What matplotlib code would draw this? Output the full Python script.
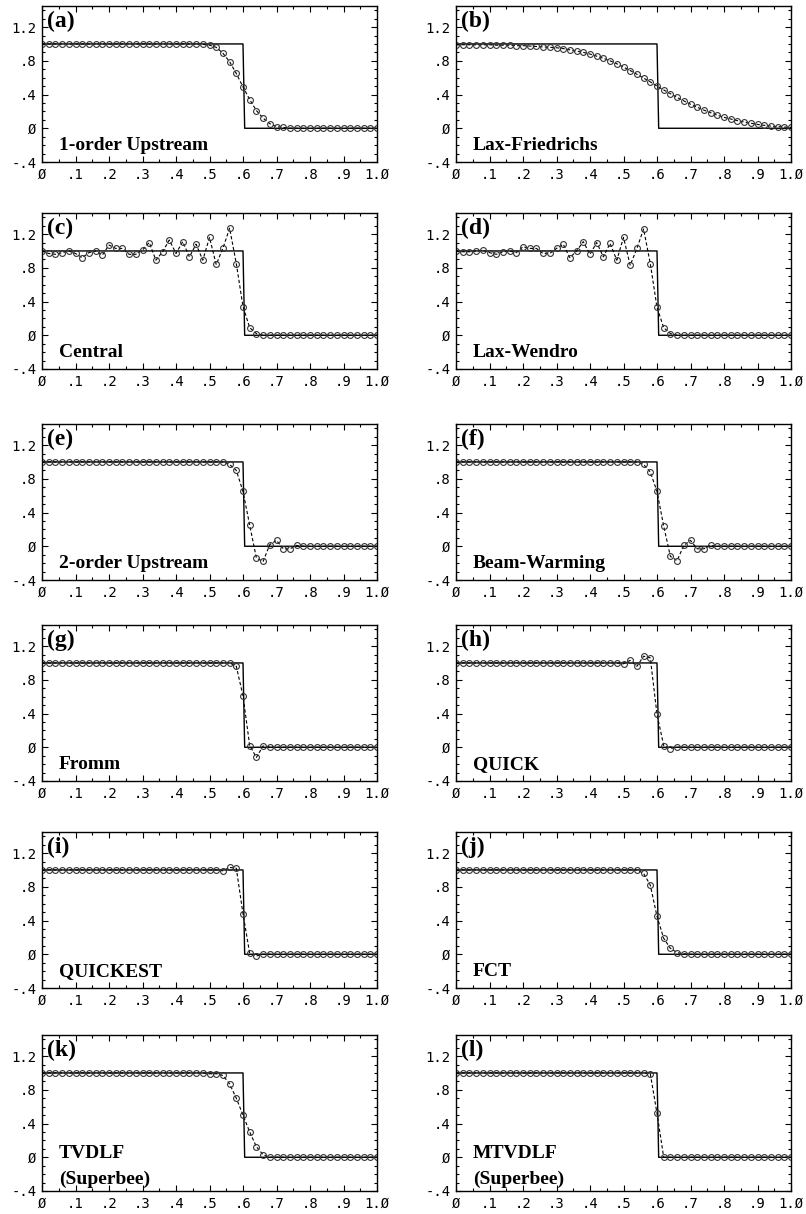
import numpy as np
import matplotlib
matplotlib.use('Agg')
import matplotlib.pyplot as plt
from matplotlib.ticker import MultipleLocator, FixedLocator, FixedFormatter

# grid points (51 cells, dx = 0.02)
x = np.round(np.arange(51) * 0.02, 2)

# exact solution: step at x = 0.6
x_exact = [0.0, 0.6, 0.605, 1.0]
y_exact = [1.0, 1.0, 0.0, 0.0]

upstream1 = [1.0] * 24 + [0.995, 0.985, 0.96, 0.89, 0.79, 0.65, 0.49, 0.34, 0.21,
                          0.12, 0.055, 0.02, 0.01] + [0.0] * 14
lax_friedrichs = ([0.99, 0.99, 0.99, 0.99, 0.99, 0.99, 0.985, 0.985, 0.985, 0.98, 0.98]
                  + [0.975, 0.97, 0.965, 0.96, 0.955, 0.945, 0.93, 0.915, 0.90, 0.88,
                     0.855, 0.83, 0.80, 0.765, 0.725, 0.685, 0.64, 0.595, 0.55]
                  + [0.50]
                  + [0.455, 0.41, 0.365, 0.325, 0.285, 0.25, 0.215, 0.185, 0.155, 0.13,
                     0.11, 0.09, 0.075, 0.06, 0.045, 0.035, 0.025, 0.02, 0.015, 0.01])
central = ([1.0, 0.97, 0.96, 0.98, 1.0, 0.97, 0.92, 0.98, 1.0, 0.95, 1.07, 1.03, 1.03,
            0.96, 0.96, 1.01, 1.10, 0.89, 0.99, 1.13, 0.97, 1.11, 0.93, 1.08, 0.89,
            1.16, 0.84, 1.03, 1.27, 0.85]
           + [0.34, 0.09, 0.02] + [0.0] * 18)
lax_wendroff = ([1.0, 0.99, 0.99, 1.0, 1.01, 0.98, 0.96, 0.99, 1.0, 0.98, 1.05, 1.03,
                 1.03, 0.97, 0.97, 1.03, 1.08, 0.92, 1.0, 1.11, 0.96, 1.10, 0.93, 1.09,
                 0.89, 1.16, 0.83, 1.03, 1.26, 0.85]
                + [0.33, 0.09, 0.02] + [0.0] * 18)
upstream2 = [1.0] * 28 + [0.97, 0.90, 0.65, 0.25, -0.14, -0.18, 0.02, 0.07, -0.03,
                          -0.03, 0.01] + [0.0] * 12
beam_warming = [1.0] * 28 + [0.97, 0.88, 0.65, 0.24, -0.12, -0.17, 0.01, 0.07, -0.03,
                             -0.03, 0.01] + [0.0] * 12
fromm = [1.0] * 29 + [0.96, 0.61, 0.02, -0.12, 0.015, 0.005] + [0.0] * 16
quick = [1.0] * 25 + [0.99, 1.03, 0.96, 1.08, 1.06, 0.39, 0.02, -0.015] + [0.0] * 18
quickest = [1.0] * 27 + [0.99, 1.03, 1.02, 0.48, 0.01, -0.02] + [0.0] * 18
fct = [1.0] * 28 + [0.96, 0.82, 0.45, 0.19, 0.07, 0.02, 0.005] + [0.0] * 16
tvdlf = [1.0] * 25 + [0.99, 0.99, 0.97, 0.87, 0.70, 0.50, 0.30, 0.125, 0.03] + [0.0] * 17
mtvdlf = [1.0] * 29 + [0.99, 0.52] + [0.0] * 20

letters = ['(a)', '(b)', '(c)', '(d)', '(e)', '(f)', '(g)', '(h)', '(i)', '(j)', '(k)', '(l)']
names = ['1-order Upstream', 'Lax-Friedrichs', 'Central', 'Lax-Wendro',
         '2-order Upstream', 'Beam-Warming', 'Fromm', 'QUICK',
         'QUICKEST', 'FCT', 'TVDLF\n(Superbee)', 'MTVDLF\n(Superbee)']
series = [upstream1, lax_friedrichs, central, lax_wendroff, upstream2, beam_warming,
          fromm, quick, quickest, fct, tvdlf, mtvdlf]

xticks = [0, .1, .2, .3, .4, .5, .6, .7, .8, .9, 1.0]
xticklabels = ['Ø', '.1', '.2', '.3', '.4', '.5', '.6', '.7', '.8', '.9', '1.Ø']
yticks = [-0.4, 0, 0.4, 0.8, 1.2]
yticklabels = ['-.4', 'Ø', '.4', '.8', '1.2']

W, H = 806, 1214
fig = plt.figure(figsize=(W / 100, H / 100), dpi=100)

col_left = [42, 456]
ax_w = 335
row_top = [6, 213, 424, 625, 832, 1035]
ax_h = 156

serif = ['Liberation Serif', 'DejaVu Serif']
mono = ['DejaVu Sans Mono']

for i in range(12):
    r, c = divmod(i, 2)
    left = col_left[c] / W
    bottom = 1 - (row_top[r] + ax_h) / H
    ax = fig.add_axes([left, bottom, ax_w / W, ax_h / H])

    ax.plot(x_exact, y_exact, color='black', lw=1.0)
    ax.plot(x, series[i], color='black', lw=0.8, ls=(0, (3, 2)),
            marker='o', ms=4.2, mfc='none', mec='#333333', mew=0.8)

    ax.set_xlim(0, 1.0)
    ax.set_ylim(-0.4, 1.45)
    ax.xaxis.set_major_locator(FixedLocator(xticks))
    ax.xaxis.set_major_formatter(FixedFormatter(xticklabels))
    ax.xaxis.set_minor_locator(MultipleLocator(0.05))
    ax.yaxis.set_major_locator(FixedLocator(yticks))
    ax.yaxis.set_major_formatter(FixedFormatter(yticklabels))
    ax.yaxis.set_minor_locator(MultipleLocator(0.1))
    ax.tick_params(which='both', direction='in', top=True, right=True, width=0.8)
    ax.tick_params(which='major', length=4, pad=4)
    ax.tick_params(which='minor', length=2)
    for lab in ax.get_xticklabels() + ax.get_yticklabels():
        lab.set_family(mono)
        lab.set_fontsize(10)
    for sp in ax.spines.values():
        sp.set_linewidth(1.0)

    ax.text(0.015, 1.27, letters[i], fontsize=17, fontweight='bold',
            family=serif, va='center', ha='left')
    lines = names[i].split('\n')
    if len(lines) == 1:
        ax.text(0.05, -0.21, lines[0], fontsize=14, fontweight='bold',
                family=serif, va='center', ha='left')
    else:
        ax.text(0.05, 0.05, lines[0], fontsize=14, fontweight='bold',
                family=serif, va='center', ha='left')
        ax.text(0.05, -0.26, lines[1], fontsize=14, fontweight='bold',
                family=serif, va='center', ha='left')

fig.savefig('out.png', dpi=100)
